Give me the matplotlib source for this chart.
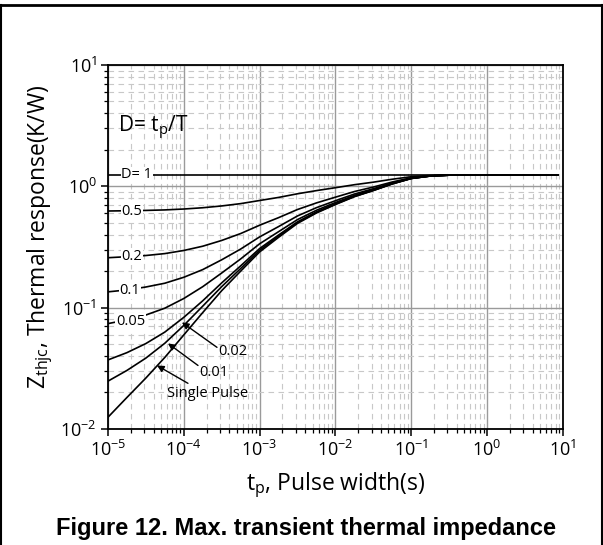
import matplotlib
matplotlib.use('Agg')
import matplotlib.pyplot as plt
from matplotlib.lines import Line2D
from matplotlib.ticker import LogLocator, NullFormatter

plt.rcParams['font.family'] = ['Open Sans', 'DejaVu Sans']
plt.rcParams['mathtext.default'] = 'regular'
plt.rcParams['axes.unicode_minus'] = False

# pulse width (s)
tp = [1.0e-5, 1.78e-5, 3.16e-5, 5.62e-5, 1.0e-4, 1.78e-4, 3.16e-4, 5.62e-4,
      1.0e-3, 1.78e-3, 3.16e-3, 5.62e-3, 1.0e-2, 1.78e-2, 3.16e-2, 5.62e-2,
      0.1, 0.178, 0.316, 1.0, 3.16, 8.5]

# thermal response Zthjc (K/W)
z_d1 = [1.24] * 22
z_d05 = [0.626, 0.629, 0.633, 0.639, 0.650, 0.666, 0.689, 0.720, 0.764, 0.810, 0.868,
         0.922, 0.974, 1.031, 1.082, 1.144, 1.200, 1.228, 1.238, 1.24, 1.24, 1.24]
z_d02 = [0.258, 0.263, 0.269, 0.279, 0.296, 0.321, 0.358, 0.408, 0.478, 0.552, 0.644,
         0.730, 0.814, 0.906, 0.986, 1.086, 1.176, 1.221, 1.237, 1.24, 1.24, 1.24]
z_d01 = [0.135, 0.140, 0.148, 0.159, 0.178, 0.206, 0.248, 0.304, 0.383, 0.466, 0.570,
         0.667, 0.761, 0.864, 0.955, 1.066, 1.168, 1.218, 1.236, 1.24, 1.24, 1.24]
z_d005 = [0.0739, 0.0793, 0.0870, 0.0990, 0.119, 0.149, 0.193, 0.252, 0.336, 0.423, 0.532,
          0.635, 0.735, 0.843, 0.939, 1.057, 1.164, 1.217, 1.236, 1.24, 1.24, 1.24]
z_d002 = [0.0371, 0.0426, 0.0506, 0.0629, 0.0832, 0.114, 0.160, 0.221, 0.307, 0.397, 0.510,
          0.616, 0.719, 0.830, 0.929, 1.051, 1.162, 1.216, 1.236, 1.24, 1.24, 1.24]
z_d001 = [0.0248, 0.0304, 0.0384, 0.0509, 0.0714, 0.103, 0.149, 0.210, 0.297, 0.389, 0.502,
          0.609, 0.713, 0.826, 0.926, 1.049, 1.161, 1.216, 1.236, 1.24, 1.24, 1.24]
z_single = [0.0125, 0.0182, 0.0263, 0.0389, 0.0596, 0.0912, 0.138, 0.200, 0.288, 0.380, 0.495,
            0.603, 0.708, 0.822, 0.923, 1.047, 1.160, 1.216, 1.236, 1.24, 1.24, 1.24]

curves = [z_d1, z_d05, z_d02, z_d01, z_d005, z_d002, z_d001, z_single]

# inline labels sitting on the curves
inline_labels = ['D= 1', '0.5', '0.2', '0.1', '0.05']
inline_x = [2.41e-5, 2.07e-5, 2.07e-5, 1.95e-5, 2.0e-5]
inline_y = [1.24, 0.622, 0.265, 0.139, 0.077]

# arrow labels: text, arrow head, arrow tail, text position
arrow_labels = ['0.02', '0.01', 'Single Pulse']
arrow_head = [(9.46e-5, 0.0757), (6.19e-5, 0.0508), (4.43e-5, 0.0334)]
arrow_tail = [(2.74e-4, 0.0471), (1.54e-4, 0.0334), (1.135e-4, 0.0238)]
arrow_text = [(2.83e-4, 0.0436), (1.585e-4, 0.0293), (6.0e-5, 0.0197)]

fig = plt.figure(figsize=(6.03, 5.45), dpi=100)
ax = fig.add_axes([0.179, 0.2128, 0.7546, 0.668])

for z in curves:
    ax.plot(tp, z, color='black', lw=1.2, zorder=3)

ax.set_xscale('log')
ax.set_yscale('log')
ax.set_xlim(1e-5, 1e1)
ax.set_ylim(1e-2, 1e1)

ax.xaxis.set_major_locator(LogLocator(base=10, numticks=10))
ax.yaxis.set_major_locator(LogLocator(base=10, numticks=10))
ax.xaxis.set_minor_locator(LogLocator(base=10, subs=range(2, 10), numticks=100))
ax.yaxis.set_minor_locator(LogLocator(base=10, subs=range(2, 10), numticks=100))
ax.xaxis.set_minor_formatter(NullFormatter())
ax.yaxis.set_minor_formatter(NullFormatter())

ax.grid(which='major', color='#9a9a9a', lw=1.0, ls='-', zorder=1)
ax.grid(which='minor', color='#c8c8c8', lw=0.8, ls=(0, (5, 4)), zorder=1)
ax.set_axisbelow(True)

ax.tick_params(which='both', direction='out', top=False, right=False, labelsize=13)
ax.tick_params(which='major', length=5, width=1.1, pad=3)
ax.tick_params(which='minor', length=3, width=0.9)
for s in ax.spines.values():
    s.set_linewidth(1.3)

ax.set_xlabel(r't$_p$, Pulse width(s)', fontsize=16.5, va='center')
ax.xaxis.set_label_coords(0.5, -0.155)
ax.set_ylabel(r'Z$_{thjc}$, Thermal response(K/W)', fontsize=16.5, va='center')
ax.yaxis.set_label_coords(-0.148, 0.527)

ax.text(1.35e-5, 3.0, r'D= t$_p$/T', fontsize=15, va='center', ha='left')

for lab, x, y in zip(inline_labels, inline_x, inline_y):
    ax.text(x, y, lab, fontsize=10.5, va='center', ha='center', zorder=4,
            bbox=dict(facecolor='white', edgecolor='none', pad=0.5))

for lab, head, tail, pos in zip(arrow_labels, arrow_head, arrow_tail, arrow_text):
    ax.annotate('', xy=head, xytext=tail,
                arrowprops=dict(arrowstyle='-|>', color='black', lw=1.0,
                                mutation_scale=10, shrinkA=0, shrinkB=0), zorder=5)
    ax.text(pos[0], pos[1], lab, fontsize=10.5, va='center', ha='left', zorder=5)

fig.text(306 / 603, 1 - 528 / 545, 'Figure 12. Max. transient thermal impedance',
         family=['Liberation Sans', 'DejaVu Sans'], fontweight='bold', fontsize=17,
         ha='center', va='center')

# page frame
fig.add_artist(Line2D([0, 1], [0.9917, 0.9917], color='black', lw=2, transform=fig.transFigure))
fig.add_artist(Line2D([0.002, 0.002], [0, 0.9917], color='black', lw=1.5, transform=fig.transFigure))
fig.add_artist(Line2D([0.998, 0.998], [0, 0.9917], color='black', lw=1.5, transform=fig.transFigure))

fig.savefig('out.png', dpi=100)
